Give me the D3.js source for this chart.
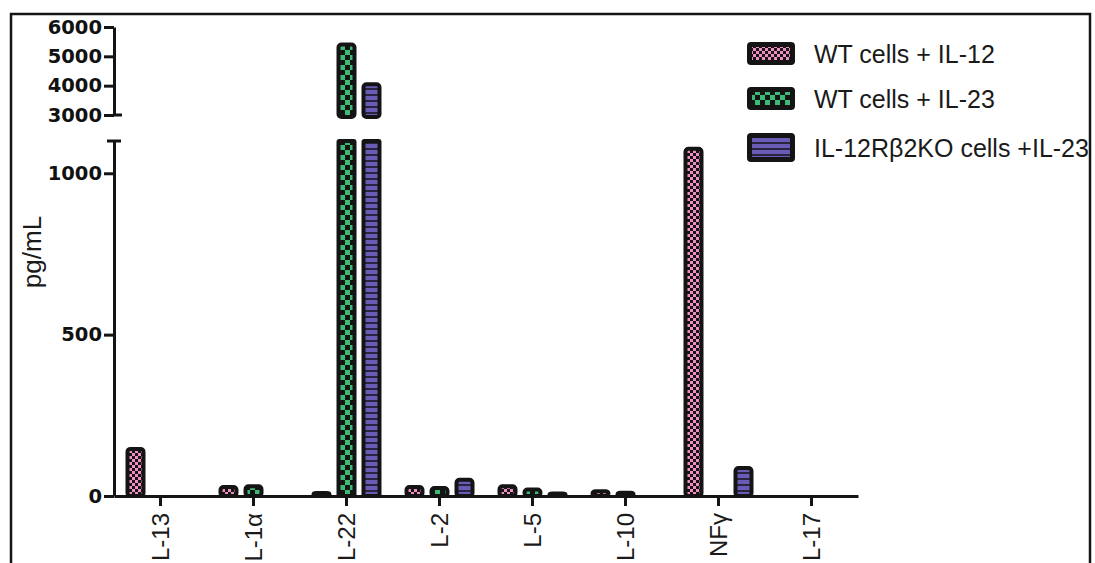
<!DOCTYPE html>
<html>
<head>
<meta charset="utf-8">
<script src="https://cdn.jsdelivr.net/npm/d3@7"></script>
<style>
  body { margin: 0; background: #fff; }
  svg { display: block; }
</style>
</head>
<body>
<div id="chart"></div>
<script>
// values (pg/mL)
const categories = ['L-13', 'L-1α', 'L-22', 'L-2', 'L-5', 'L-10', 'NFγ', 'L-17'];
const wtIL12 = [146, 28, 9, 28, 30, 15, 1076, 0];
const wtIL23 = [0, 30, 5400, 25, 20, 10, 0, 0];
const koIL23 = [0, 0, 4050, 50, 8, 0, 87, 0];
const seriesNames = ['WT cells + IL-12', 'WT cells + IL-23', 'IL-12Rβ2KO cells +IL-23'];
const lowerTicks = [0, 500, 1000];
const upperTicks = [3000, 4000, 5000, 6000];

const width = 1095;
const height = 563;
const ink = '#141414';

const svg = d3.select('#chart')
  .append('svg')
  .attr('width', width)
  .attr('height', height);

// fill patterns
const defs = svg.append('defs');

const pink = defs.append('pattern')
  .attr('id', 'pat-pink')
  .attr('patternUnits', 'userSpaceOnUse')
  .attr('width', 6).attr('height', 6);
pink.append('rect').attr('width', 6).attr('height', 6).attr('fill', '#f08ec2');
pink.append('rect').attr('width', 3).attr('height', 3).attr('fill', ink);
pink.append('rect').attr('x', 3).attr('y', 3).attr('width', 3).attr('height', 3).attr('fill', ink);

const green = defs.append('pattern')
  .attr('id', 'pat-green')
  .attr('patternUnits', 'userSpaceOnUse')
  .attr('width', 10).attr('height', 10);
green.append('rect').attr('width', 10).attr('height', 10).attr('fill', '#3dbb76');
green.append('rect').attr('width', 5).attr('height', 5).attr('fill', ink);
green.append('rect').attr('x', 5).attr('y', 5).attr('width', 5).attr('height', 5).attr('fill', ink);

const blue = defs.append('pattern')
  .attr('id', 'pat-blue')
  .attr('patternUnits', 'userSpaceOnUse')
  .attr('width', 6).attr('height', 6);
blue.append('rect').attr('width', 6).attr('height', 6).attr('fill', '#6a5cb6');
blue.append('rect').attr('y', 4).attr('width', 6).attr('height', 2).attr('fill', '#2a2440');

const fills = ['url(#pat-pink)', 'url(#pat-green)', 'url(#pat-blue)'];

// outer frame
svg.append('rect')
  .attr('x', 11).attr('y', 14)
  .attr('width', 1079).attr('height', 620)
  .attr('fill', 'none')
  .attr('stroke', ink)
  .attr('stroke-width', 2.5);

// scales
const x = d3.scaleBand().domain(categories).range([114, 858]);
const yLow = d3.scaleLinear().domain([0, 1100]).range([496, 141]);
const yHigh = d3.scaleLinear().domain([3000, 6000]).range([115, 27]);
const breakValue = 1100;
const offsets = [-25, 0, 25];
const barW = 16;

const bars = [];
[wtIL12, wtIL23, koIL23].forEach((vals, s) => {
  vals.forEach((v, i) => {
    if (v > 0) bars.push({ cat: categories[i], value: v, s });
  });
});

const barX = (d) => x(d.cat) + x.bandwidth() / 2 + offsets[d.s] - barW / 2;

// lower segment
svg.append('g')
  .selectAll('rect')
  .data(bars)
  .join('rect')
  .attr('x', barX)
  .attr('y', (d) => yLow(Math.min(d.value, breakValue)))
  .attr('width', barW)
  .attr('height', (d) => yLow(0) - yLow(Math.min(d.value, breakValue)))
  .attr('rx', (d) => (d.value > breakValue ? 1 : 3))
  .attr('fill', (d) => fills[d.s])
  .attr('stroke', ink)
  .attr('stroke-width', 4);

// upper segment for the tall bars
svg.append('g')
  .selectAll('rect')
  .data(bars.filter((d) => d.value > 3000))
  .join('rect')
  .attr('x', barX)
  .attr('y', (d) => yHigh(d.value))
  .attr('width', barW)
  .attr('height', (d) => yHigh(3000) + 2 - yHigh(d.value))
  .attr('rx', 3)
  .attr('fill', (d) => fills[d.s])
  .attr('stroke', ink)
  .attr('stroke-width', 4);

// y axes (broken)
const axisX = 114;
const styleAxis = (g) => {
  g.selectAll('.domain').attr('stroke', ink).attr('stroke-width', 3);
  g.selectAll('.tick line').attr('stroke', ink).attr('stroke-width', 3);
  g.selectAll('.tick text')
    .attr('fill', '#111')
    .style('font-family', '"DejaVu Sans", sans-serif')
    .style('font-weight', 'bold')
    .style('font-size', '19.5px');
};

svg.append('g')
  .attr('transform', `translate(${axisX},0)`)
  .call(d3.axisLeft(yLow).tickValues(lowerTicks).tickFormat(d3.format('d'))
    .tickSize(10).tickSizeOuter(0).tickPadding(2))
  .call(styleAxis);

svg.append('g')
  .attr('transform', `translate(${axisX},0)`)
  .call(d3.axisLeft(yHigh).tickValues(upperTicks).tickFormat(d3.format('d'))
    .tickSize(10).tickSizeOuter(0).tickPadding(2))
  .call(styleAxis);

// break caps
svg.append('line')
  .attr('x1', axisX - 7).attr('x2', axisX + 7)
  .attr('y1', yLow(breakValue)).attr('y2', yLow(breakValue))
  .attr('stroke', ink).attr('stroke-width', 3);
svg.append('line')
  .attr('x1', axisX).attr('x2', axisX + 8)
  .attr('y1', yHigh(3000)).attr('y2', yHigh(3000))
  .attr('stroke', ink).attr('stroke-width', 3);

// x axis
const xAxis = svg.append('g')
  .attr('transform', `translate(0,${yLow(0)})`)
  .call(d3.axisBottom(x).tickSize(10).tickSizeOuter(0));
xAxis.select('.domain').attr('stroke', ink).attr('stroke-width', 3);
xAxis.selectAll('.tick line').attr('stroke', ink).attr('stroke-width', 3);
xAxis.selectAll('.tick text')
  .attr('transform', 'rotate(-90)')
  .attr('x', -17)
  .attr('y', 0)
  .attr('dy', '0.36em')
  .attr('text-anchor', 'end')
  .attr('fill', '#1a1a1a')
  .style('font-family', '"Liberation Sans", Arial, sans-serif')
  .style('font-size', '24px');

// y title
svg.append('text')
  .attr('transform', 'translate(41,252) rotate(-90)')
  .attr('text-anchor', 'middle')
  .attr('fill', '#1a1a1a')
  .style('font-family', '"Liberation Sans", Arial, sans-serif')
  .style('font-size', '26px')
  .text('pg/mL');

// legend
const legendRows = [
  { y: 42, h: 23, base: 63 },
  { y: 87, h: 23, base: 108 },
  { y: 133, h: 29, base: 157 },
];
const legend = svg.append('g')
  .selectAll('g')
  .data(seriesNames)
  .join('g');

legend.append('rect')
  .attr('x', 747)
  .attr('y', (d, i) => legendRows[i].y)
  .attr('width', 48)
  .attr('height', (d, i) => legendRows[i].h)
  .attr('rx', 4)
  .attr('fill', ink);

legend.append('rect')
  .attr('x', 752)
  .attr('y', (d, i) => legendRows[i].y + 5)
  .attr('width', 38)
  .attr('height', (d, i) => legendRows[i].h - 10)
  .attr('fill', (d, i) => fills[i]);

legend.append('text')
  .attr('x', 814)
  .attr('y', (d, i) => legendRows[i].base)
  .attr('fill', '#1a1a1a')
  .style('font-family', '"Liberation Sans", Arial, sans-serif')
  .style('font-size', '25px')
  .text((d) => d);
</script>
</body>
</html>
